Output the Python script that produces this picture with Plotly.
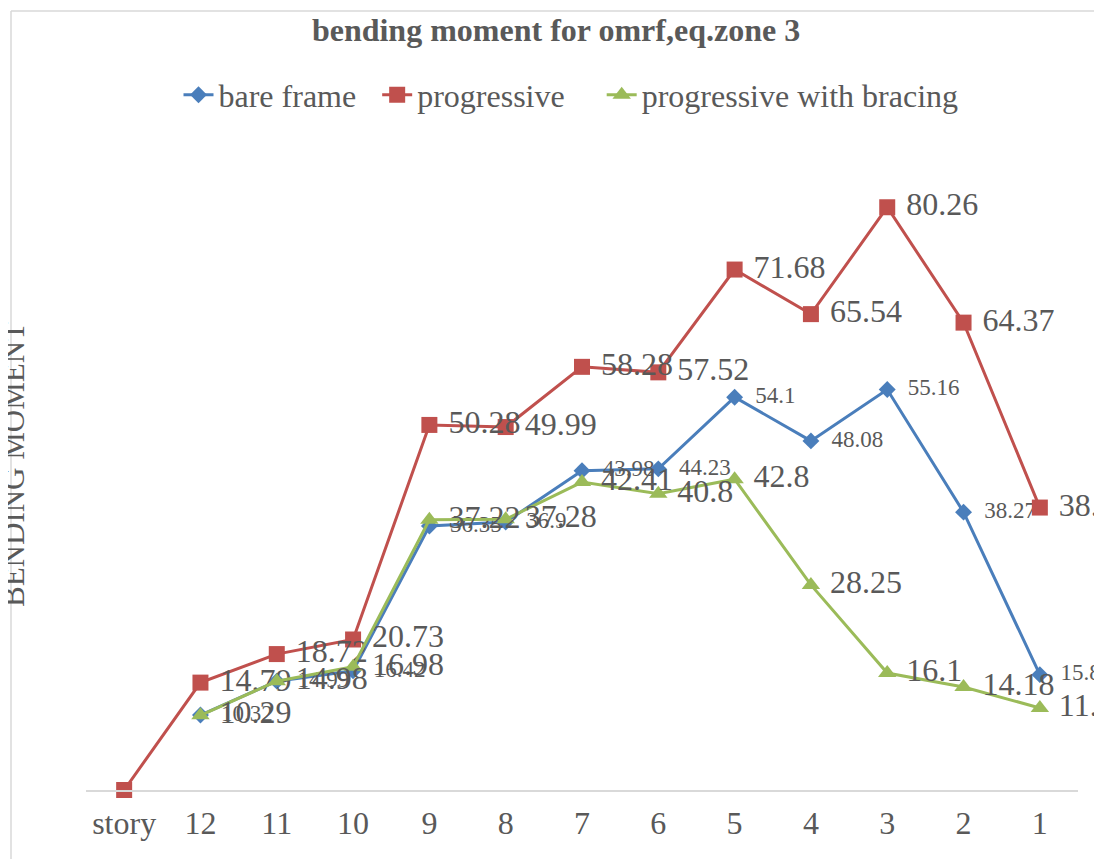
import plotly.graph_objects as go

categories = ["story", "12", "11", "10", "9", "8", "7", "6", "5", "4", "3", "2", "1"]
bare_frame = [None, 10.32, 14.99, 16.42, 36.35, 36.9, 43.98, 44.23, 54.1, 48.08, 55.16, 38.27, 15.89]
progressive = [0, 14.79, 18.72, 20.73, 50.28, 49.99, 58.28, 57.52, 71.68, 65.54, 80.26, 64.37, 38.9]
prog_bracing = [None, 10.29, 14.98, 16.98, 37.22, 37.28, 42.41, 40.8, 42.8, 28.25, 16.1, 14.18, 11.3]

W, H = 1102, 859
OFF = 8  # page body margin
L, R, T, B = 78, 32, 122, 77
PW, PH = W - L - R, H - T - B
YMAX = 90.9

def px_x(p):  # page pixel -> paper x
    return (p - OFF - L) / PW

def px_y(p):  # page pixel -> paper y
    return (H - B - (p - OFF)) / PH

def lab(vals, pad):
    return [None if v is None else pad + ("%g" % v) for v in vals]

grey = "#595959"
serif = "Liberation Serif, Times New Roman, serif"

prog_text = [None] + lab(progressive[1:], "\u00a0")

fig = go.Figure()
fig.add_trace(go.Scatter(
    x=categories, y=bare_frame, name="bare frame\u00a0\u00a0", mode="lines+markers+text",
    line=dict(color="#4A7EBB", width=3),
    marker=dict(symbol="diamond", size=13, color="#4A7EBB"),
    text=lab(bare_frame, "\u00a0\u00a0"), textposition="middle right",
    textfont=dict(family=serif, size=23, color=grey), cliponaxis=False,
))
fig.add_trace(go.Scatter(
    x=categories, y=progressive, name="progressive\u00a0\u00a0\u00a0\u00a0", mode="lines+markers+text",
    line=dict(color="#C0504D", width=3),
    marker=dict(symbol="square", size=16, color="#C0504D"),
    text=prog_text, textposition="middle right",
    textfont=dict(family=serif, size=32, color=grey), cliponaxis=False,
))
fig.add_trace(go.Scatter(
    x=categories, y=prog_bracing, name="progressive with bracing", mode="lines+markers+text",
    line=dict(color="#9BBB59", width=3),
    marker=dict(symbol="triangle-up", size=16, color="#9BBB59"),
    text=lab(prog_bracing, "\u00a0"), textposition="middle right",
    textfont=dict(family=serif, size=32, color=grey), cliponaxis=False,
))

fig.update_layout(
    width=W, height=H,
    margin=dict(l=L, r=R, t=T, b=B),
    paper_bgcolor="white", plot_bgcolor="white",
    title=dict(text="<b>bending moment for omrf,eq.zone 3</b>",
               x=(556 - OFF) / W, xanchor="center", y=1 - (30 - OFF) / H, yanchor="middle",
               font=dict(family=serif, size=32, color=grey)),
    legend=dict(orientation="h", x=px_x(571), xanchor="center", y=px_y(95), yanchor="middle",
                font=dict(family=serif, size=32, color=grey), bgcolor="rgba(0,0,0,0)"),
    xaxis=dict(type="category", categoryorder="array", categoryarray=categories,
               range=[-0.5, len(categories) - 0.5],
               showline=True, linecolor="#D9D9D9", linewidth=1.5,
               showgrid=False, zeroline=False, ticks="", ticklabelstandoff=4,
               tickfont=dict(family=serif, size=32, color=grey)),
    yaxis=dict(range=[0, YMAX], showticklabels=False, showgrid=False,
               zeroline=False, showline=False, ticks=""),
    annotations=[dict(text="BENDING MOMENT", xref="paper", yref="paper",
                      x=px_x(13), y=px_y(465), xanchor="center", yanchor="middle",
                      textangle=-90, showarrow=False,
                      font=dict(family=serif, size=31, color=grey))],
    shapes=[
        dict(type="line", xref="paper", yref="paper", x0=px_x(11), x1=px_x(W + 20), y0=px_y(11), y1=px_y(11),
             line=dict(color="#D9D9D9", width=1.5)),
        dict(type="line", xref="paper", yref="paper", x0=px_x(11), x1=px_x(11), y0=px_y(11), y1=px_y(H + 20),
             line=dict(color="#D9D9D9", width=1.5)),
    ],
)

fig.write_html("out.html")
